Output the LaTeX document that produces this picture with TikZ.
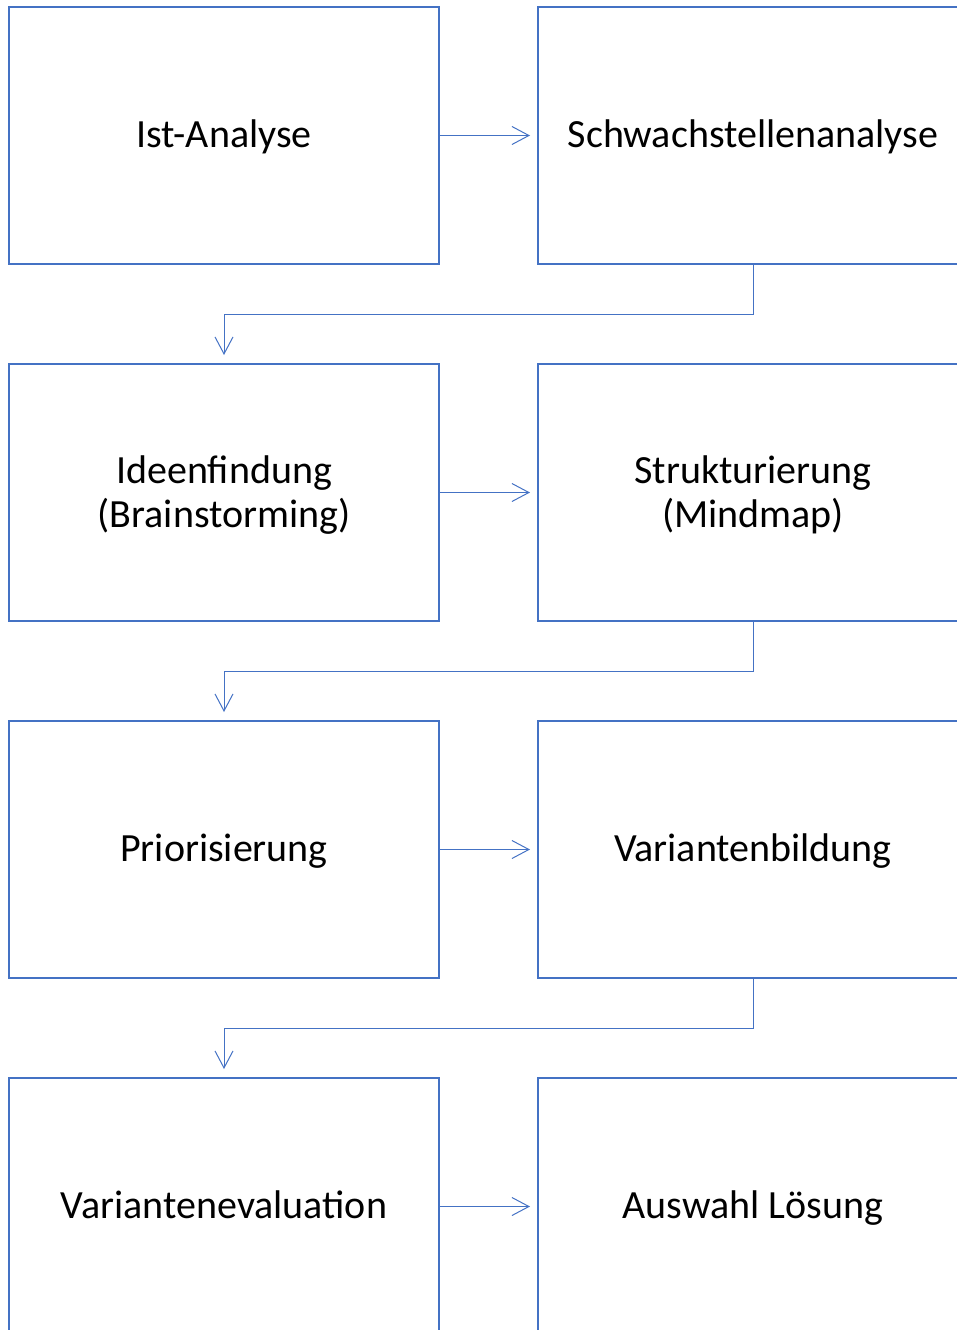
\documentclass[tikz,border=0pt]{standalone}
\usepackage{fontspec}
\setmainfont{Carlito}
\usetikzlibrary{arrows.meta}
\definecolor{bord}{HTML}{4472C4}
\tikzset{
  stepbox/.style={draw=bord, line width=2pt, minimum width=430pt, minimum height=257pt, inner sep=0pt, align=center, font=\fontsize{40pt}{44pt}\selectfont, anchor=north west},
  oneline/.style={text height=30pt, text depth=6pt},
  conn/.style={draw=bord, line width=1pt, -{Straight Barb[length=17pt,width=18pt,line width=1pt]}}
}
\newcommand{\topstrut}{\rule{0pt}{33pt}}
\begin{document}
\begin{tikzpicture}[x=1pt,y=-1pt]
\useasboundingbox (0,0) rectangle (957,1330);
\clip (0,0) rectangle (957,1330);
\node[stepbox,oneline] (a) at (8,6) {Ist-Analyse};
\node[stepbox,oneline] (b) at (537,6) {Schwachstellenanalyse};
\node[stepbox] (c) at (8,363) {\topstrut Ideenfindung\\(Brainstorming)};
\node[stepbox] (d) at (537,363) {\topstrut Strukturierung\\(Mindmap)};
\node[stepbox,oneline] (e) at (8,720) {Priorisierung};
\node[stepbox,oneline] (f) at (537,720) {Variantenbildung};
\node[stepbox,oneline] (g) at (8,1077) {Variantenevaluation};
\node[stepbox,oneline] (h) at (537,1077) {Auswahl Lösung};
\draw[conn] (a.east) -- ([xshift=-7pt]b.west);
\draw[conn] (c.east) -- ([xshift=-7pt]d.west);
\draw[conn] (e.east) -- ([xshift=-7pt]f.west);
\draw[conn] (g.east) -- ([xshift=-7pt]h.west);
\draw[conn] (b.south) -- ++(0,49) -| ([yshift=8pt]c.north);
\draw[conn] (d.south) -- ++(0,49) -| ([yshift=8pt]e.north);
\draw[conn] (f.south) -- ++(0,49) -| ([yshift=8pt]g.north);
\end{tikzpicture}
\end{document}
